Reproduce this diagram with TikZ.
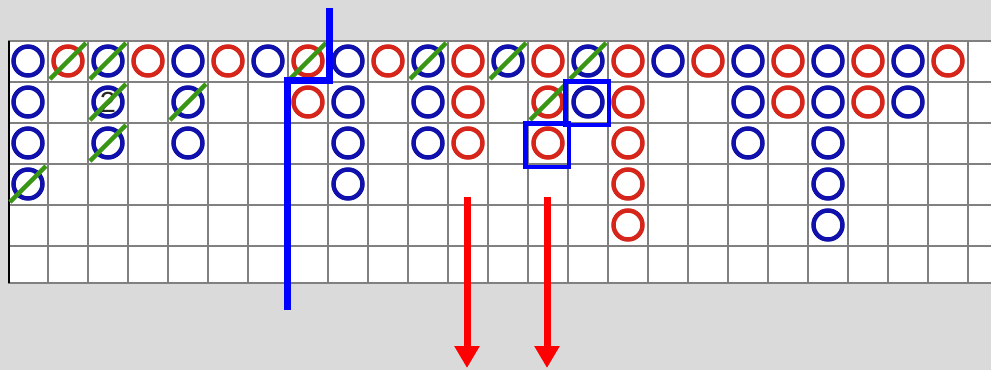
\documentclass[tikz,border=0pt]{standalone}
\usepackage{fontspec}
\newfontfamily\digitfont{Liberation Sans}
\usetikzlibrary{arrows.meta}
\definecolor{bg}{RGB}{218,218,218}
\definecolor{beadblue}{RGB}{16,16,170}
\definecolor{beadred}{RGB}{214,38,28}
\definecolor{slashgreen}{RGB}{56,150,20}
\definecolor{gridgray}{RGB}{128,128,128}
\definecolor{markblue}{RGB}{0,0,255}
\definecolor{arrowred}{RGB}{255,0,0}
\begin{document}
\begin{tikzpicture}[x=1pt,y=-1pt,
  bead/.style={circle,minimum size=29pt,inner sep=0pt,line width=4.5pt},
  bb/.style={bead,draw=beadblue},
  rb/.style={bead,draw=beadred},
  slashline/.style={draw=slashgreen,line width=4.5pt},
  gridline/.style={draw=gridgray,line width=1.8pt},
  bluepath/.style={draw=markblue,line width=7pt},
  bluebox/.style={draw=markblue,line width=4.5pt,minimum size=43.5pt,inner sep=0pt},
  redarrow/.style={draw=arrowred,line width=7pt,-{Triangle[width=24pt,length=22pt]}}]
\fill[bg] (0,0) rectangle (991,370);
\useasboundingbox (0,0) rectangle (991,370);
% grid
\fill[white] (8,41) rectangle (991,283);
\foreach \k in {1,...,24} \draw[gridline] ({8+40*\k},41) -- ({8+40*\k},283);
\foreach \y in {41,82,123,164,205,246,283} \draw[gridline] (8,\y) -- (991,\y);
\draw[black,line width=2.5pt] (9,41) -- (9,283);
% blue beads
\foreach \c/\r in {0/0,2/0,4/0,6/0,8/0,10/0,12/0,14/0,16/0,18/0,20/0,22/0,
                   0/1,2/1,4/1,8/1,10/1,14/1,18/1,20/1,22/1,
                   0/2,2/2,4/2,8/2,10/2,18/2,20/2,
                   0/3,8/3,20/3,
                   20/4}
  \node[bb] (b-\c-\r) at ({28+40*\c},{61+41*\r}) {};
% red beads
\foreach \c/\r in {1/0,3/0,5/0,7/0,9/0,11/0,13/0,15/0,17/0,19/0,21/0,23/0,
                   7/1,11/1,13/1,15/1,19/1,21/1,
                   11/2,13/2,15/2,
                   15/3,
                   15/4}
  \node[rb] (b-\c-\r) at ({28+40*\c},{61+41*\r}) {};
% number
\node[font=\digitfont\fontsize{29}{29}\selectfont,text=black!85,inner sep=0pt] (n2) at (b-2-1) {2};
% green slashes
\foreach \c/\r in {1/0,2/0,7/0,10/0,12/0,14/0,2/1,4/1,13/1,2/2,0/3}
  \draw[slashline] ([shift={(-18,18)}]b-\c-\r.center) -- ([shift={(18,-18)}]b-\c-\r.center);
% blue boxes
\node[bluebox] (box1) at ([shift={(-1,1)}]b-14-1.center) {};
\node[bluebox] (box2) at ([shift={(-1,2)}]b-13-2.center) {};
% blue divider line
\coordinate (lt) at (329,8);
\coordinate (lc) at (287,80);
\coordinate (lb) at (287,310);
\draw[bluepath] (lt) |- (lc) -- (lb);
% red arrows
\coordinate (a1s) at (467,197);
\coordinate (a1e) at (467,368);
\coordinate (a2s) at (547,197);
\coordinate (a2e) at (547,368);
\draw[redarrow] (a1s) -- (a1e);
\draw[redarrow] (a2s) -- (a2e);
\end{tikzpicture}
\end{document}
